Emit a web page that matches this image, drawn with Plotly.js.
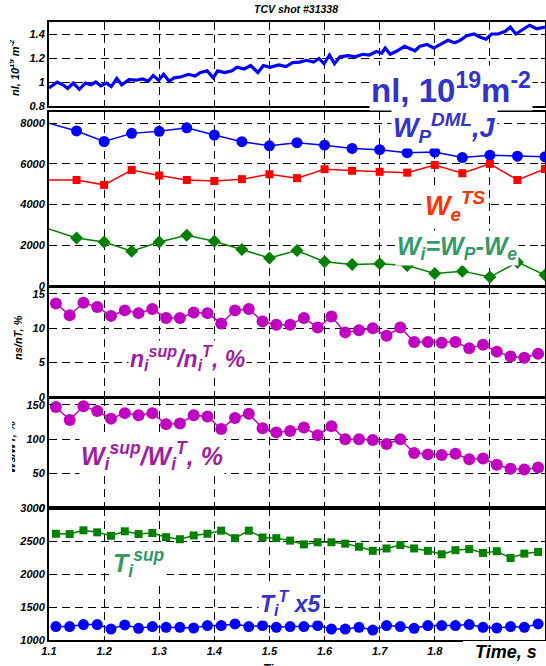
<!DOCTYPE html>
<html>
<head>
<meta charset="utf-8">
<script src="https://cdn.plot.ly/plotly-3.0.1.min.js"></script>
<style>html,body{margin:0;padding:0;background:#fff;}#chart{width:546px;height:666px;}</style>
</head>
<body>
<div id="chart"></div>
<script>
// ---------- data ----------
const xTickVals = [1.1, 1.2, 1.3, 1.4, 1.5, 1.6, 1.7, 1.8, 1.9, 2.0];
// labels of 1.9 and 2 are hidden behind the "Time, s" box in the original
const xTickText = ['1.1', '1.2', '1.3', '1.4', '1.5', '1.6', '1.7', '1.8', '', ''];

// panel 1: line-integrated density nl
const nlTime = [1.100, 1.104, 1.115, 1.125, 1.134, 1.144, 1.155, 1.166, 1.176, 1.185, 1.194, 1.204, 1.213, 1.223, 1.232,
  1.245, 1.258, 1.270, 1.280, 1.289, 1.299, 1.308, 1.318, 1.327, 1.340, 1.353, 1.365, 1.375, 1.387, 1.398,
  1.406, 1.419, 1.432, 1.441, 1.454, 1.466, 1.479, 1.489, 1.501, 1.517, 1.530, 1.542, 1.555, 1.567, 1.580,
  1.590, 1.599, 1.609, 1.618, 1.628, 1.643, 1.656, 1.669, 1.681, 1.694, 1.704, 1.710, 1.719, 1.732, 1.745,
  1.754, 1.764, 1.773, 1.786, 1.798, 1.811, 1.824, 1.836, 1.846, 1.858, 1.871, 1.884, 1.893, 1.903, 1.915,
  1.928, 1.937, 1.947, 1.960, 1.972, 1.985, 2.000];
const nlValue = [0.950, 0.962, 1.000, 0.977, 0.947, 0.991, 0.939, 0.991, 0.977, 1.000, 0.968, 0.991, 0.962, 1.029, 0.977,
  1.020, 1.015, 1.026, 1.006, 1.055, 1.015, 1.064, 1.006, 1.035, 1.044, 1.064, 1.050, 1.079, 1.093, 1.035,
  1.093, 1.079, 1.093, 1.123, 1.108, 1.137, 1.079, 1.137, 1.123, 1.143, 1.129, 1.161, 1.166, 1.181, 1.166,
  1.196, 1.152, 1.225, 1.152, 1.210, 1.219, 1.210, 1.231, 1.225, 1.254, 1.240, 1.283, 1.231, 1.260, 1.298,
  1.283, 1.260, 1.298, 1.312, 1.283, 1.312, 1.347, 1.327, 1.347, 1.385, 1.400, 1.371, 1.356, 1.400, 1.400,
  1.423, 1.458, 1.400, 1.435, 1.473, 1.444, 1.458];

// panel 2: stored energies (J)
const wTime = [1.05, 1.15, 1.20, 1.25, 1.30, 1.35, 1.40, 1.45, 1.50, 1.55, 1.60, 1.65, 1.70, 1.75, 1.80, 1.85, 1.90, 1.95, 2.00];
const wpDML = [8380, 7620, 7100, 7500, 7600, 7770, 7420, 7090, 6890, 7040, 6920, 6760, 6700, 6550, 6580, 6310, 6430, 6380, 6350];
const weTS  = [5210, 5210, 4970, 5700, 5430, 5210, 5160, 5250, 5490, 5300, 5740, 5660, 5610, 5570, 5950, 5540, 6000, 5210, 5750];
const wiDiff = [3240, 2360, 2160, 1710, 2160, 2490, 2200, 1790, 1380, 1740, 1190, 1060, 1090, 1010, 620, 730, 440, 1170, 540];

// panels 3-5: suprathermal ion diagnostics
const sTime = [1.1125, 1.1375, 1.1625, 1.1875, 1.2125, 1.2375, 1.2625, 1.2875, 1.3125, 1.3375, 1.3625, 1.3875,
  1.4125, 1.4375, 1.4625, 1.4875, 1.5125, 1.5375, 1.5625, 1.5875, 1.6125, 1.6375, 1.6625, 1.6875,
  1.7125, 1.7375, 1.7625, 1.7875, 1.8125, 1.8375, 1.8625, 1.8875, 1.9125, 1.9375, 1.9625, 1.9875];
const nsRatio = [13.6, 11.9, 13.7, 13.1, 11.8, 12.6, 12.2, 12.8, 11.5, 11.5, 12.3, 12.2,
  10.7, 12.6, 12.8, 11.0, 10.5, 10.5, 11.5, 10.1, 11.7, 9.4, 9.7, 10.0,
  8.9, 10.1, 8.0, 8.0, 7.9, 8.0, 7.1, 7.6, 6.6, 5.9, 5.7, 6.3];
const wsRatio = [147, 128, 148, 141, 130, 138, 135, 138, 122, 123, 135, 133,
  115, 131, 137, 116, 110, 112, 117, 106, 119, 100, 100, 99,
  93, 100, 80, 78, 77, 79, 71, 72, 63, 57, 56, 59];
const tiSup = [2610, 2605, 2662, 2631, 2579, 2647, 2605, 2621, 2558, 2527, 2584, 2610,
  2657, 2543, 2657, 2553, 2543, 2506, 2449, 2481, 2481, 2460, 2413, 2351,
  2387, 2439, 2387, 2351, 2299, 2361, 2377, 2319, 2345, 2242, 2309, 2335];
const tiThermX5 = [1203, 1203, 1234, 1234, 1166, 1229, 1177, 1203, 1192, 1192, 1182, 1218,
  1218, 1244, 1203, 1218, 1192, 1203, 1203, 1218, 1166, 1166, 1192, 1151,
  1218, 1203, 1177, 1218, 1218, 1218, 1234, 1192, 1182, 1203, 1192, 1244];

// y tick labels
const y1Ticks = [0.8, 1, 1.2, 1.4];        const y1Text = ['0.8', '1', '1.2', '1.4'];
const y2Ticks = [0, 2000, 4000, 6000, 8000]; const y2Text = ['0', '2000', '4000', '6000', '8000'];
const y3Ticks = [0, 5, 10, 15];            const y3Text = ['0', '5', '10', '15'];
const y4Ticks = [0, 50, 100, 150];         const y4Text = ['0', '50', '100', '150'];
const y5Ticks = [1000, 1500, 2000, 2500, 3000]; const y5Text = ['1000', '1500', '2000', '2500', '3000'];

// ---------- layout helpers ----------
const H = 666, L = 49, R = 545;
const px = x => (x - L) / (R - L);
const py = y => 1 - y / H;
const FAM = 'Liberation Sans, Arial, sans-serif';
const tickFont = {family: FAM, size: 11, color: '#000', weight: 'bold', style: 'italic'};

function xAxis(anchor, labels) {
  return {
    anchor: anchor, domain: [0, 1], range: [1.1, 2.0],
    tickvals: xTickVals, ticktext: xTickText, showticklabels: labels,
    ticks: 'inside', ticklen: 4, tickcolor: '#000', tickwidth: 1,
    showline: true, linewidth: 2, linecolor: '#000', mirror: 'ticks',
    showgrid: true, gridcolor: '#000', gridwidth: 1, griddash: '8px,5px',
    zeroline: false, tickfont: tickFont, fixedrange: true
  };
}
function yAxis(anchor, top, bottom, range, tv, tt) {
  return {
    anchor: anchor, domain: [py(bottom), py(top)], range: range,
    tickvals: tv, ticktext: tt,
    ticks: 'inside', ticklen: 4, tickcolor: '#000', tickwidth: 1,
    showline: true, linewidth: 2, linecolor: '#000', mirror: 'ticks',
    showgrid: true, gridcolor: '#000', gridwidth: 1, griddash: '8px,5px',
    zeroline: false, tickfont: tickFont, fixedrange: true
  };
}

const traces = [
  {x: nlTime, y: nlValue, xaxis: 'x2', yaxis: 'y2', mode: 'lines', line: {color: '#0000ff', width: 3.2}},
  {x: wTime, y: wpDML, xaxis: 'x3', yaxis: 'y3', mode: 'lines+markers', line: {color: '#0000ff', width: 1.5}, marker: {symbol: 'circle', size: 11, color: '#0000ff'}},
  {x: wTime, y: weTS, xaxis: 'x3', yaxis: 'y3', mode: 'lines+markers', line: {color: '#ff0000', width: 1.5}, marker: {symbol: 'square', size: 8, color: '#ff0000'}},
  {x: wTime, y: wiDiff, xaxis: 'x3', yaxis: 'y3', mode: 'lines+markers', line: {color: '#008000', width: 1.5}, marker: {symbol: 'diamond', size: 10, color: '#008000'}},
  {x: sTime, y: nsRatio, xaxis: 'x4', yaxis: 'y4', mode: 'lines+markers', line: {color: '#c000c0', width: 1.5}, marker: {symbol: 'circle', size: 12, color: '#c000c0'}},
  {x: sTime, y: wsRatio, xaxis: 'x5', yaxis: 'y5', mode: 'lines+markers', line: {color: '#c000c0', width: 1.5}, marker: {symbol: 'circle', size: 12, color: '#c000c0'}},
  {x: sTime, y: tiSup, xaxis: 'x', yaxis: 'y', mode: 'lines+markers', line: {color: '#008000', width: 1.5}, marker: {symbol: 'square', size: 8, color: '#008000'}},
  {x: sTime, y: tiThermX5, xaxis: 'x', yaxis: 'y', mode: 'lines+markers', line: {color: '#0000ff', width: 1.5}, marker: {symbol: 'circle', size: 11, color: '#0000ff'}}
];

function ann(text, x, y, size, color, opts) {
  return Object.assign({
    text: text, xref: 'paper', yref: 'paper', x: px(x), y: py(y),
    xanchor: 'center', yanchor: 'middle', showarrow: false,
    font: {family: FAM, size: size, color: color, weight: 'bold', style: 'italic'},
    bgcolor: '#ffffff', borderpad: 1
  }, opts || {});
}
// white masking box (drawn as an empty annotation so it lies above other texts)
function mask(x0, x1, y0, y1) {
  return {text: ' ', xref: 'paper', yref: 'paper', x: px(x0), y: py(y0), xanchor: 'left', yanchor: 'top',
    width: x1 - x0, height: y1 - y0, bgcolor: '#ffffff', borderpad: 0, borderwidth: 0, showarrow: false};
}

const annotations = [
  ann('TCV shot #31338', 296, 8.5, 10.5, '#000', {bgcolor: 'rgba(0,0,0,0)'}),
  ann('nl, 10<sup>19</sup>m<sup>-2</sup>', 451, 88, 33, '#3333cc', {font: {family: FAM, size: 33, color: '#3333cc', weight: 'bold', style: 'normal'}}),
  ann('W<sub>P</sub><sup>DML</sup>,J', 444, 128, 27, '#3333cc'),
  ann('W<sub>e</sub><sup>TS</sup>', 455, 206, 27, '#ff3300'),
  ann('W<sub>i</sub>=W<sub>P</sub>-W<sub>e</sub>', 457, 248, 25, '#33996a'),
  ann('n<sub>i</sub><sup>sup</sup>/n<sub>i</sub><sup>T</sup>, %', 187, 358, 23, '#9e1f9e'),
  ann('W<sub>i</sub><sup>sup</sup>/W<sub>i</sub><sup>T</sup>, %', 152, 456, 25, '#9e1f9e'),
  ann('T<sub>i</sub><sup>sup</sup>', 139, 563, 25, '#33996a'),
  ann('T<sub>i</sub><sup>T</sup> x5', 291, 603, 23, '#3333cc'),
  // y-axis titles (partly cut in the original)
  ann('nl, 10<sup>19</sup> m<sup>-2</sup>', 14, 68, 11, '#000', {textangle: -90, bgcolor: 'rgba(0,0,0,0)'}),
  ann('ns/nT, %', 18, 338, 11, '#000', {textangle: -90, bgcolor: 'rgba(0,0,0,0)'}),
  ann('Ws/WT, %', 11, 447, 11, '#000', {textangle: -90, bgcolor: 'rgba(0,0,0,0)'}),
  mask(0, 10, 25, 105),
  mask(0, 12, 402, 492),
  // partially hidden x title and overlay label
  ann('Time, s', 283, 660, 12, '#000', {yanchor: 'top', bgcolor: 'rgba(0,0,0,0)'}),
  ann('Time, s', 506, 652, 18, '#000', {bgcolor: 'rgba(0,0,0,0)'})
];

const shapes = [
  {type: 'rect', xref: 'paper', yref: 'paper', x0: px(463), x1: px(547), y0: py(667), y1: py(641), fillcolor: '#fff', line: {width: 0}, layer: 'above'}
];

const layout = {
  width: 546, height: 666,
  margin: {l: L, r: 546 - R, t: 0, b: 0},
  paper_bgcolor: '#fff', plot_bgcolor: '#fff',
  showlegend: false,
  xaxis: xAxis('y', true),
  xaxis2: xAxis('y2', false),
  xaxis3: xAxis('y3', false),
  xaxis4: xAxis('y4', false),
  xaxis5: xAxis('y5', false),
  yaxis: yAxis('x', 508, 640, [1000, 3000], y5Ticks, y5Text),
  yaxis2: yAxis('x2', 22, 106, [0.8, 1.5], y1Ticks, y1Text),
  yaxis3: yAxis('x3', 112, 286, [0, 8550], y2Ticks, y2Text),
  yaxis4: yAxis('x4', 287, 397, [0, 16], y3Ticks, y3Text),
  yaxis5: yAxis('x5', 398, 508, [0, 160], y4Ticks, y4Text),
  annotations: annotations,
  shapes: shapes
};

Plotly.newPlot('chart', traces, layout, {staticPlot: true, displayModeBar: false});
</script>
</body>
</html>
